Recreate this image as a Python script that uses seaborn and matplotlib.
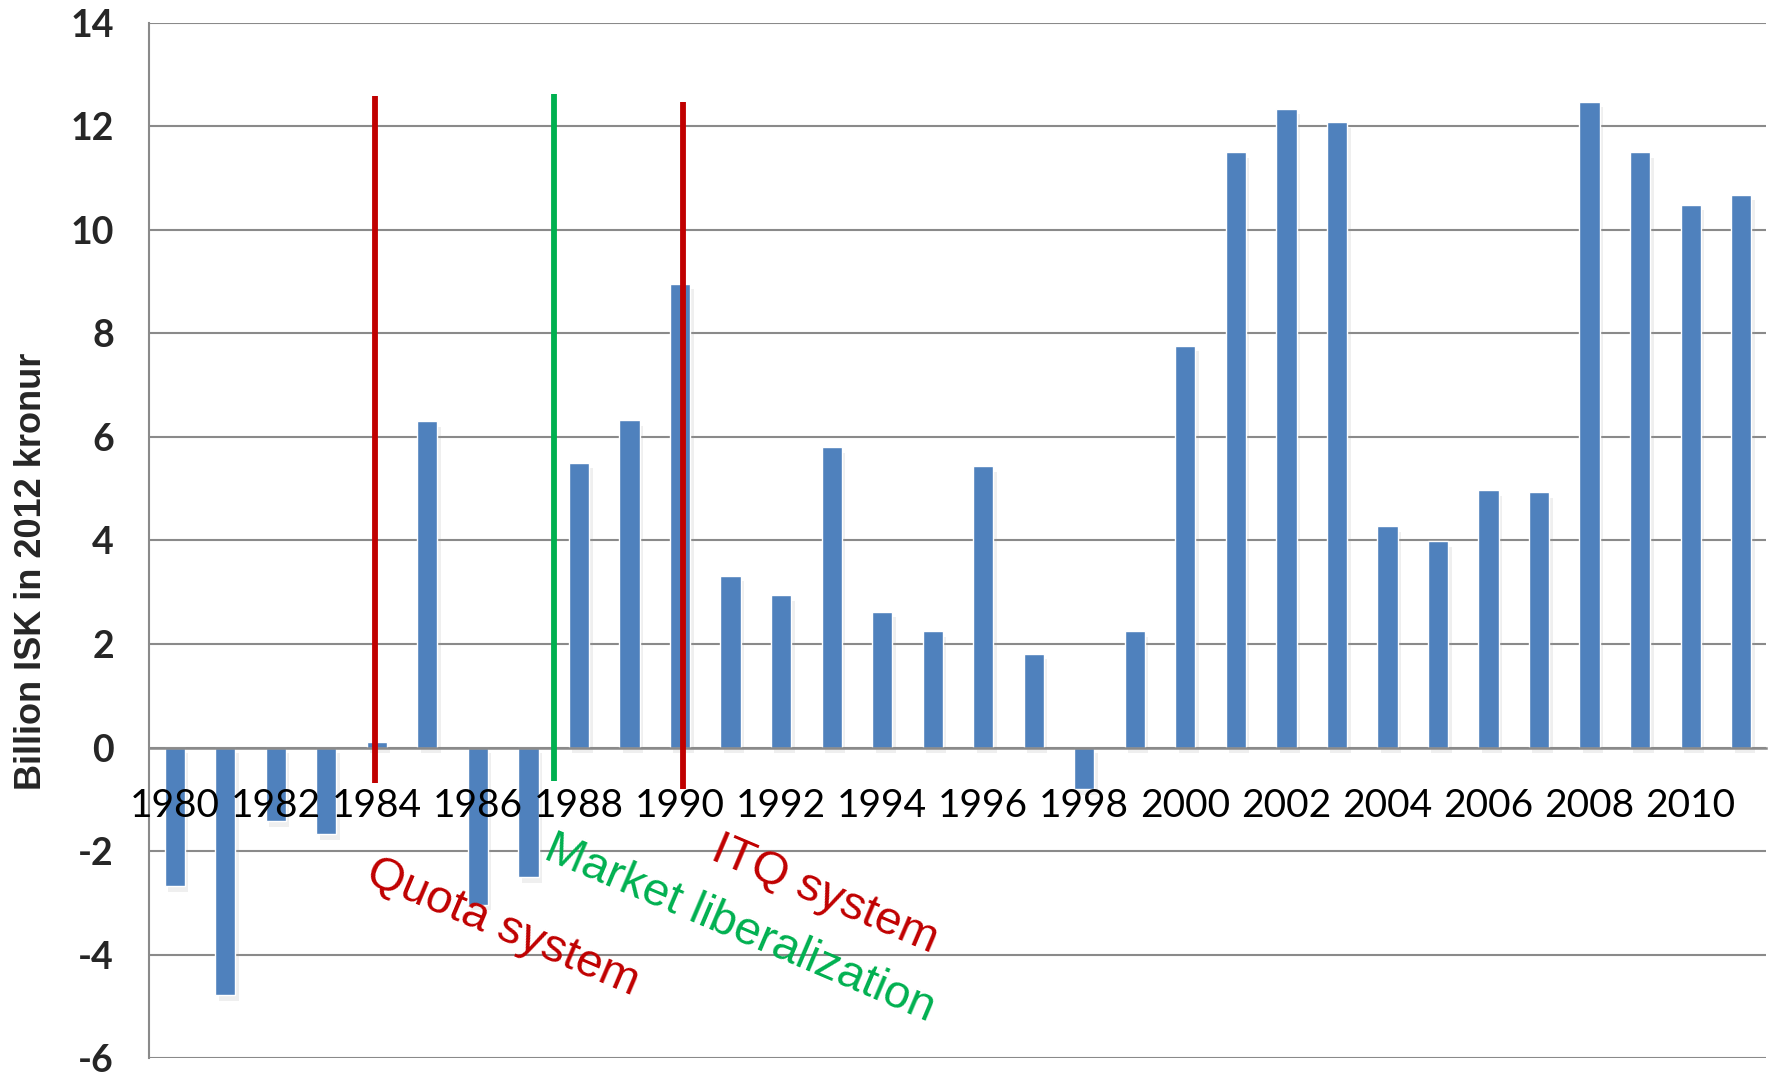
import matplotlib
matplotlib.use('Agg')
import matplotlib.pyplot as plt
import matplotlib.patheffects as pe
import seaborn as sns
import numpy as np
import pandas as pd

# yearly values, billion ISK (2012 kronur)
years = list(range(1980, 2012))
values = [-2.68, -4.78, -1.42, -1.67, 0.1, 6.3, -3.03, -2.5,
          5.5, 6.32, 8.96, 3.32, 2.94, 5.8, 2.62, 2.25,
          5.43, 1.81, -0.8, 2.25, 7.76, 11.5, 12.34, 12.08,
          4.27, 3.99, 4.97, 4.93, 12.47, 11.5, 10.48, 10.68]

# policy events: position on category axis, line extent, label
event_labels = ['Quota system', 'Market liberalization', 'ITQ system']
event_x = [3.96, 7.5, 10.06]
event_top = [12.58, 12.62, 12.47]
event_bottom = [-0.68, -0.64, -0.79]
event_colors = ['#C00000', '#00B050', '#C00000']
label_x = [4.0, 7.53, 10.84]
label_y = [-1.98, -1.53, -1.55]

yticks = list(range(-6, 15, 2))

df = pd.DataFrame({'year': years, 'value': values})

sns.set_style('white')
plt.rcParams['font.family'] = ['Lato', 'DejaVu Sans']

fig = plt.figure(figsize=(17.73, 10.75), dpi=100)
ax = fig.add_axes([0.0843, 0.0155, 0.912, 0.9635])

sns.barplot(data=df, x='year', y='value', color='#4F81BD', saturation=1,
            width=0.4, ax=ax, zorder=2)
for p in ax.patches:
    p.set_path_effects([pe.SimplePatchShadow(offset=(2.5, -4), shadow_rgbFace='#999999', alpha=0.15),
                        pe.Normal()])

# gridlines behind bars
for v in yticks:
    ax.axhline(v, color='#8a8a8a', lw=1.5, zorder=0)

ax.set_xlim(-0.5, len(years) - 0.5)
ax.set_ylim(-6, 14)
ax.set_yticks(yticks)
ax.set_yticklabels([str(v) for v in yticks], fontweight='bold')

# category labels every two years, sitting under the zero line
ax.set_xticks(range(0, len(years), 2))
ax.set_xticklabels([str(y) for y in years[::2]])
ax.set_xticks(np.arange(0.5, len(years) - 0.5, 1), minor=True)
ax.xaxis.set_zorder(6)

for s in ['top', 'right']:
    ax.spines[s].set_visible(False)
ax.spines['bottom'].set_position(('data', 0))
ax.spines['bottom'].set_color('#8a8a8a')
ax.spines['bottom'].set_linewidth(1.8)
ax.spines['left'].set_color('#8a8a8a')
ax.spines['left'].set_linewidth(1.5)

ax.tick_params(axis='x', which='major', length=0, pad=29, labelsize=28, colors='black')
ax.tick_params(axis='x', which='minor', length=8.5, width=1.5, color='#8a8a8a', direction='out')
ax.tick_params(axis='y', length=8.5, width=1.5, color='#8a8a8a', pad=17, labelsize=27)
ax.set_xlabel('')
ax.set_ylabel('')

ax.vlines(event_x, event_bottom, event_top, colors=event_colors, lw=4.2, zorder=4)

for lab, x, y, c in zip(event_labels, label_x, label_y, event_colors):
    ax.text(x, y, lab, color=c, rotation=-23, rotation_mode='anchor',
            ha='left', va='top', fontsize=34, family='Liberation Sans', zorder=5)

fig.text(0.018, 0.469, 'Billion ISK in 2012 kronur', rotation=90, ha='center', va='center',
         fontsize=26, fontweight='bold', family='Liberation Sans')

fig.savefig('out.png', dpi=100)
